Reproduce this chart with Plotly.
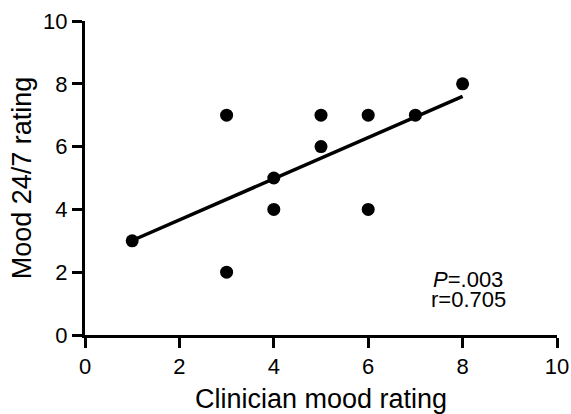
import numpy as np
import plotly.graph_objects as go

clinician = [1, 3, 3, 4, 4, 5, 5, 6, 6, 7, 8]
mood247 = [3, 7, 2, 5, 4, 7, 6, 7, 4, 7, 8]
tick_vals = [0, 2, 4, 6, 8, 10]
stats_lines = ["<i>P</i>=.003", "r=0.705"]

slope, intercept = np.polyfit(clinician, mood247, 1)
fit_x = [min(clinician), max(clinician)]
fit_y = [slope * v + intercept for v in fit_x]

font = "Liberation Sans, Arial, sans-serif"

fig = go.Figure()
fig.add_trace(go.Scatter(x=fit_x, y=fit_y, mode="lines",
                         line=dict(color="black", width=3.5), showlegend=False))
fig.add_trace(go.Scatter(x=clinician, y=mood247, mode="markers",
                         marker=dict(color="black", size=13), showlegend=False))

axis_common = dict(range=[0, 10], tickvals=tick_vals, showline=True, linecolor="black",
                   linewidth=3, ticks="outside", ticklen=10, tickwidth=3, tickcolor="black",
                   showgrid=False, zeroline=False, automargin=False,
                   tickfont=dict(size=22, color="black", family=font))

fig.update_xaxes(**axis_common, title=dict(text="Clinician mood rating", standoff=14,
                                           font=dict(size=27, color="black", family=font)))
fig.update_yaxes(**axis_common, title=dict(text="Mood 24/7 rating", standoff=4,
                                           font=dict(size=27, color="black", family=font)))

for i, line in enumerate(stats_lines):
    fig.add_annotation(x=8.12, y=1.78 - 0.64 * i, xref="x", yref="y", text=line,
                       showarrow=False, font=dict(size=22, color="black", family=font))

fig.update_layout(width=571, height=414, margin=dict(l=85, r=14, t=21, b=79),
                  plot_bgcolor="white", paper_bgcolor="white", font=dict(family=font))

fig.write_html("out.html", post_script="document.body.style.margin='0';",
               config={"displayModeBar": False})
